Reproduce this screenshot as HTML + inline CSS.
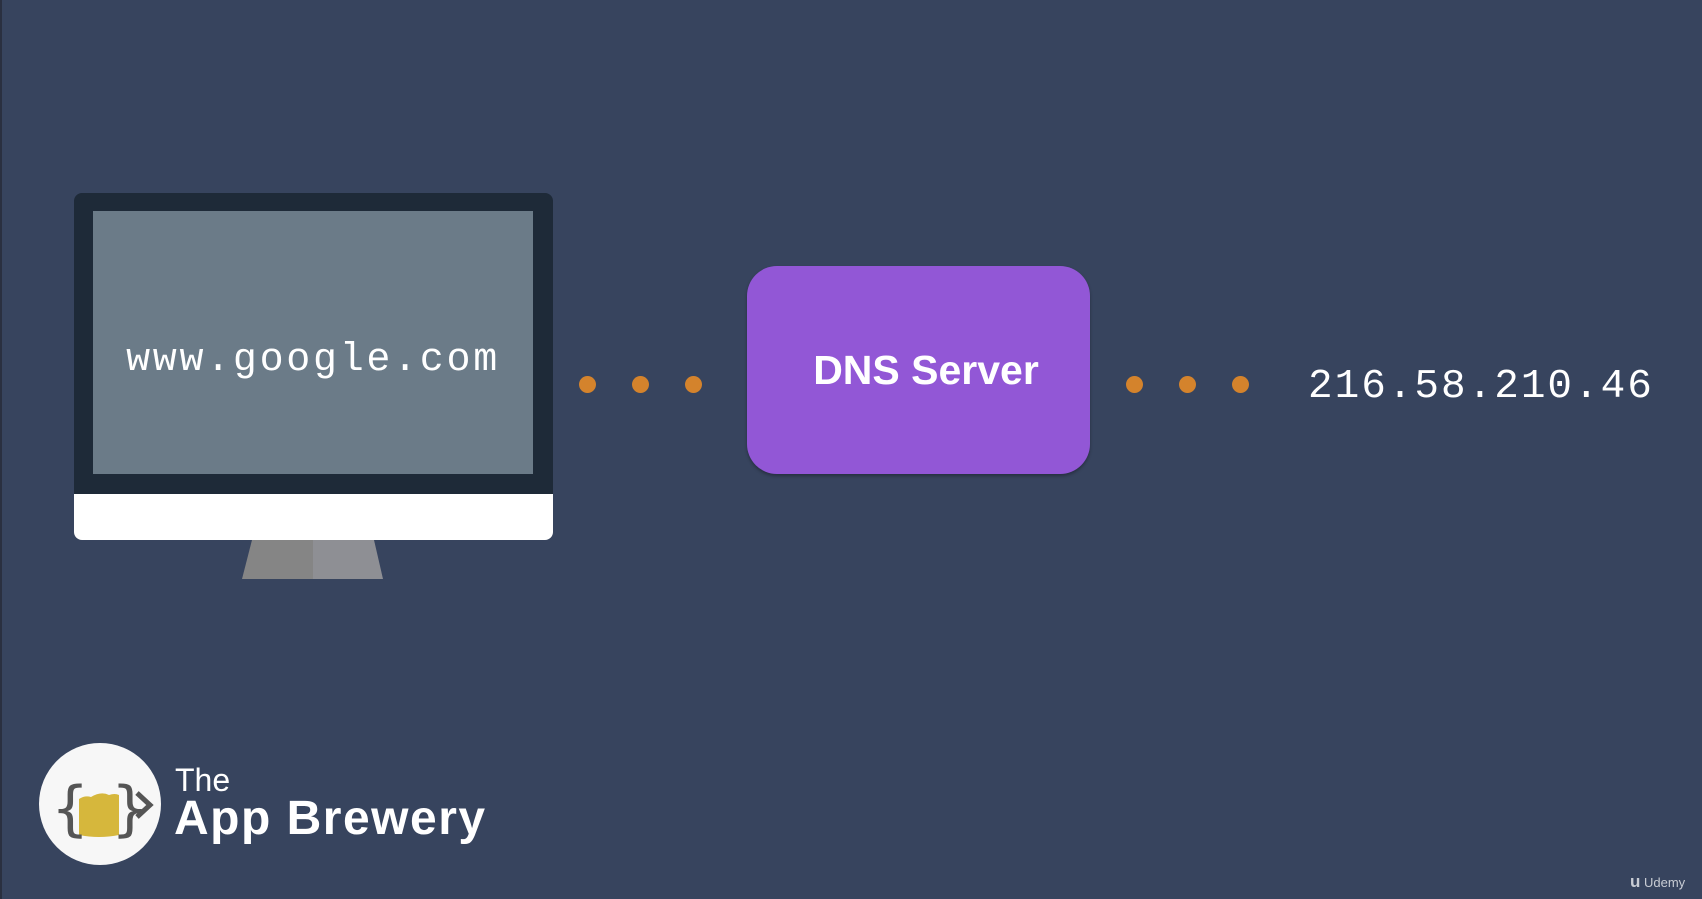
<!DOCTYPE html>
<html><head><meta charset="utf-8"><style>
html,body{margin:0;padding:0;}
body{width:1702px;height:899px;background:#37445e;position:relative;overflow:hidden;font-family:"Liberation Sans",sans-serif;}
.a{position:absolute;}
.dot{position:absolute;width:17px;height:17px;border-radius:50%;background:#d4832c;}
</style></head><body>
<div class="a" style="left:0;top:0;width:2px;height:899px;background:#2a3040"></div>
<div class="a" style="left:74px;top:193px;width:479px;height:347px;border-radius:8px;background:#1e2a38;overflow:hidden;">
  <div class="a" style="left:0;top:301px;width:479px;height:46px;background:#fff;"></div>
</div>
<div class="a" style="left:93px;top:211px;width:440px;height:263px;background:#6b7b88;"></div>
<div class="a" style="left:93px;top:336px;width:440px;text-align:center;font-family:'Liberation Mono',monospace;font-size:40px;color:#fff;letter-spacing:2.7px;line-height:50px;">www.google.com</div>
<svg class="a" style="left:0;top:0" width="1702" height="899">
  <polygon points="252,540 313,540 313,579 242,579" fill="#858585"/>
  <polygon points="313,540 374,540 383,579 313,579" fill="#8e8f94"/>
</svg>
<div class="dot" style="left:579px;top:376px"></div>
<div class="dot" style="left:632px;top:376px"></div>
<div class="dot" style="left:685px;top:376px"></div>
<div class="a" style="left:747px;top:266px;width:343px;height:208px;border-radius:30px;background:#9257d6;box-shadow:0 2px 3px rgba(0,0,0,.3);"></div>
<div class="a" style="left:747px;top:345px;width:358px;text-align:center;font-size:41px;font-weight:bold;color:#fff;line-height:50px;">DNS Server</div>
<div class="dot" style="left:1126px;top:376px"></div>
<div class="dot" style="left:1179px;top:376px"></div>
<div class="dot" style="left:1232px;top:376px"></div>
<div class="a" style="left:1308px;top:362px;font-family:'Liberation Mono',monospace;font-size:41px;color:#fff;letter-spacing:2px;line-height:50px;">216.58.210.46</div>
<div class="a" style="left:39px;top:743px;width:122px;height:122px;border-radius:50%;background:#f7f7f7;"></div>
<svg class="a" style="left:39px;top:743px" width="122" height="122">
  <path d="M40 56 q6-4 12 -2 q10 -6 18 -2 q6-2 10 0 l0 40 q-20 4 -40 0z" fill="#d6b73c"/>
  <text x="12" y="86" font-family="DejaVu Sans" font-size="60" fill="#555">{</text>
  <text x="72" y="86" font-family="DejaVu Sans" font-size="60" fill="#555">}</text>
  <path d="M98 50 l13 12 l-13 12" stroke="#555" stroke-width="5" fill="none"/>
</svg>
<div class="a" style="left:175px;top:762px;font-size:32px;color:#fff;line-height:36px;">The</div>
<div class="a" style="left:174px;top:794px;font-size:48px;font-weight:bold;color:#fff;line-height:50px;letter-spacing:1.5px;">App Brewery</div>
<div class="a" style="left:1630px;top:872px;font-size:13px;color:#c8ccd4;"><b style="font-size:17px">u</b> Udemy</div>
</body></html>
